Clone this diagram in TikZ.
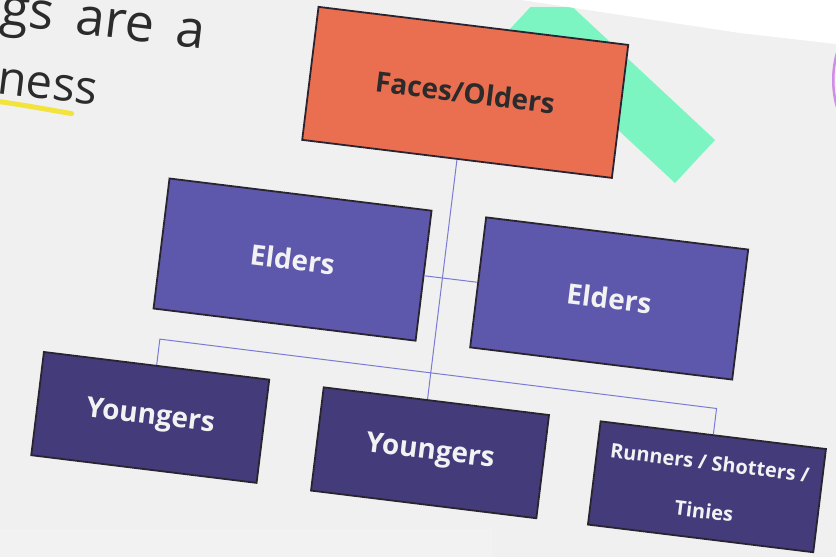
\documentclass[tikz,border=0pt]{standalone}
\usepackage{fontspec}
\setmainfont{Open Sans}
\usetikzlibrary{calc}
\definecolor{bgc}{HTML}{F0F0F0}
\definecolor{stripc}{HTML}{F2F2F2}
\definecolor{facefill}{HTML}{EA6E50}
\definecolor{elderfill}{HTML}{5D58AB}
\definecolor{youngfill}{HTML}{443B7B}
\definecolor{boxline}{HTML}{2A2430}
\definecolor{connc}{HTML}{7B7BD6}
\definecolor{mint}{HTML}{7DF5C2}
\definecolor{hilite}{HTML}{F2E43C}
\definecolor{titletext}{HTML}{2B2B2B}
\definecolor{boxtext}{HTML}{F2F2F2}
\definecolor{slivercol}{HTML}{D08CE6}
\begin{document}
\begin{tikzpicture}[x=1pt,y=-1pt,
  orgbox/.style={draw=boxline, line width=1.8pt, inner sep=0pt, align=center, font=\fontsize{28}{34}\selectfont\bfseries},
  facebox/.style={orgbox, fill=facefill, text=titletext, minimum width=312pt, minimum height=134pt},
  elderbox/.style={orgbox, fill=elderfill, text=boxtext, minimum width=264pt, minimum height=131pt},
  youngbox/.style={orgbox, fill=youngfill, text=boxtext, minimum width=227pt, minimum height=104pt},
  smalllabel/.style={font=\fontsize{20}{49}\selectfont\bfseries},
  conn/.style={draw=connc, line width=1pt},
  titlefont/.style={text=titletext, inner sep=0pt}
]
\useasboundingbox (0,0) rectangle (836,557);
\clip (0,0) rectangle (836,557);
\fill[bgc] (0,0) rectangle (836,557);
\fill[stripc] (0,529) rectangle (492,557);
% mint decoration
\fill[mint] (530.5,7) -- (572.5,7) -- (715,140) -- (675,183) -- (510,29) -- cycle;
% area beyond the slide edge
\fill[white] (515,-1) -- (740,33) -- (836,44) -- (836,-1) -- cycle;
% cut-off glyph at the right edge
\draw[slivercol, line width=2.5pt] (837,53) .. controls (832,70) and (832,90) .. (837,107);
\begin{scope}[rotate=-7, transform shape]
  \node[titlefont, font=\fontsize{52}{62}\selectfont, anchor=base east] (t1) at (208,24) {gs\hspace{9pt} are\hspace{9pt} a};
  \node[titlefont, font=\fontsize{47}{56}\selectfont, anchor=base east] (t2) at (108,93) {ness};
  \draw[hilite, line width=5pt, line cap=round] (-20,101) .. controls (20,100) and (60,103) .. (85,104);
  \node[facebox] (F) at (473,35) {Faces/Olders};
  \node[elderbox] (EL) at (322,222) {Elders};
  \node[elderbox] (ER) at (641,222) {Elders};
  \node[youngbox] (YL) at (200,396) {Youngers};
  \node[youngbox] (YM) at (482,397) {Youngers};
  \node[youngbox, smalllabel] (R) at (761,397) {Runners / Shotters /\\Tinies};
\end{scope}
\draw[conn] (F.south) -- ($(YM.north west)!(F.south)!(YM.north east)$);
\draw[conn] (EL.east) -- (ER.west);
\draw[conn] (YL.north) -- ($(YL.north)!-26pt!(YL.south)$) -- ($(R.north)!-26pt!(R.south)$) -- (R.north);
\end{tikzpicture}
\end{document}
